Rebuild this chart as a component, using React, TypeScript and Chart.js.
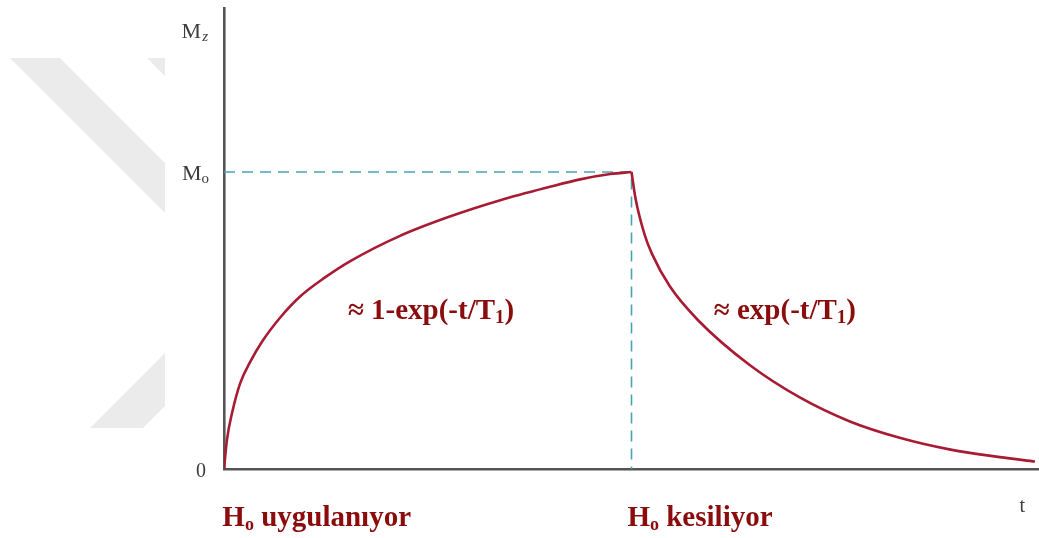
import { useEffect, useRef } from "react";
import { Chart, registerables } from "chart.js";

Chart.register(...registerables);

// Longitudinal magnetisation while the field is on, then after it is switched off
const riseTimes = [0, 0.037, 0.1, 0.2, 0.32, 0.47, 0.69, 0.93, 1.24, 1.55, 2.16, 2.77, 3.39, 4.0, 4.37, 4.74, 5.0];
const riseValues = [0, 0.1, 0.19, 0.29, 0.36, 0.43, 0.51, 0.58, 0.645, 0.7, 0.785, 0.85, 0.905, 0.95, 0.975, 0.993, 1.0];
const decayTimes = [5.0, 5.05, 5.16, 5.25, 5.47, 5.82, 6.45, 7.07, 7.68, 8.29, 8.9, 9.52, 9.95];
const decayValues = [1.0, 0.91, 0.79, 0.725, 0.615, 0.5, 0.35, 0.24, 0.16, 0.105, 0.066, 0.04, 0.025];

const switchOffTime = 5;
const equilibriumLevel = 1;
const timeMax = 10;
const levelMax = 1.552;

const CURVE = "#a81c33";
const GUIDE = "#4aa3b5";
const AXIS = "#555555";
const NOTE = "#8a0c0c";
const SERIF = '"Liberation Serif", "Times New Roman", serif';

type Seg = { t: string; size: number; dy?: number; italic?: boolean };

function drawRich(
  ctx: CanvasRenderingContext2D,
  segs: Seg[],
  x: number,
  y: number,
  align: "left" | "right",
  color: string,
  bold: boolean
) {
  const fontOf = (s: Seg) =>
    `${s.italic ? "italic " : ""}${bold ? "bold " : ""}${s.size}px ${SERIF}`;
  let total = 0;
  for (const s of segs) {
    ctx.font = fontOf(s);
    total += ctx.measureText(s.t).width;
  }
  let cx = align === "right" ? x - total : x;
  ctx.fillStyle = color;
  ctx.textAlign = "left";
  ctx.textBaseline = "alphabetic";
  for (const s of segs) {
    ctx.font = fontOf(s);
    ctx.fillText(s.t, cx, y + (s.dy || 0));
    cx += ctx.measureText(s.t).width;
  }
}

// Faint diagonal bands in the left margin
const backdropPlugin = {
  id: "backdrop",
  beforeDraw(chart: Chart) {
    const ctx = chart.ctx;
    ctx.save();
    ctx.fillStyle = "#ebebeb";
    const shapes = [
      [[10, 58], [60, 58], [165, 163], [165, 213]],
      [[147, 58], [165, 58], [165, 76]],
      [[90, 428], [143, 428], [165, 406], [165, 353]],
    ];
    for (const poly of shapes) {
      ctx.beginPath();
      poly.forEach(([px, py], i) => (i ? ctx.lineTo(px, py) : ctx.moveTo(px, py)));
      ctx.closePath();
      ctx.fill();
    }
    ctx.restore();
  },
};

const labelPlugin = {
  id: "labels",
  afterDraw(chart: Chart) {
    const ctx = chart.ctx;
    const xs = chart.scales.x;
    const ys = chart.scales.y;
    const left = xs.getPixelForValue(0);
    const base = ys.getPixelForValue(0);
    ctx.save();
    // axis captions
    drawRich(ctx, [{ t: "M", size: 22 }, { t: " ", size: 4 }, { t: "z", size: 15, dy: 3, italic: true }], left - 16, ys.top + 30, "right", "#3c3c3c", false);
    drawRich(ctx, [{ t: "M", size: 22 }, { t: "o", size: 15, dy: 3 }], left - 15, ys.getPixelForValue(equilibriumLevel) + 8, "right", "#3c3c3c", false);
    drawRich(ctx, [{ t: "0", size: 20 }], left - 18, base + 8, "right", "#3c3c3c", false);
    drawRich(ctx, [{ t: "t", size: 20 }], xs.getPixelForValue(9.76), base + 43, "left", "#3c3c3c", false);
    // formulas
    drawRich(
      ctx,
      [{ t: "≈ 1-exp(-t/T", size: 29 }, { t: "1", size: 19, dy: 4 }, { t: ")", size: 29 }],
      xs.getPixelForValue(1.52), ys.getPixelForValue(0.505), "left", NOTE, true
    );
    drawRich(
      ctx,
      [{ t: "≈ exp(-t/T", size: 29 }, { t: "1", size: 19, dy: 4 }, { t: ")", size: 29 }],
      xs.getPixelForValue(6.01), ys.getPixelForValue(0.505), "left", NOTE, true
    );
    // field on / off captions
    drawRich(
      ctx,
      [{ t: "H", size: 29 }, { t: "o", size: 18, dy: 4 }, { t: " uygulanıyor", size: 29 }],
      xs.getPixelForValue(-0.02), base + 57, "left", NOTE, true
    );
    drawRich(
      ctx,
      [{ t: "H", size: 29 }, { t: "o", size: 18, dy: 4 }, { t: " kesiliyor", size: 29 }],
      xs.getPixelForValue(switchOffTime - 0.05), base + 57, "left", NOTE, true
    );
    ctx.restore();
  },
};

export default function App() {
  const ref = useRef<HTMLCanvasElement | null>(null);

  useEffect(() => {
    if (!ref.current) return;
    const chart = new Chart(ref.current, {
      type: "line",
      data: {
        datasets: [
          {
            data: riseTimes.map((t, i) => ({ x: t, y: riseValues[i] })),
            borderColor: CURVE,
            borderWidth: 2.6,
            pointRadius: 0,
            cubicInterpolationMode: "monotone",
            order: 0,
          },
          {
            data: decayTimes.map((t, i) => ({ x: t, y: decayValues[i] })),
            borderColor: CURVE,
            borderWidth: 2.6,
            pointRadius: 0,
            cubicInterpolationMode: "monotone",
            order: 0,
          },
          {
            data: [
              { x: 0, y: equilibriumLevel },
              { x: switchOffTime, y: equilibriumLevel },
              { x: switchOffTime, y: 0 },
            ],
            borderColor: GUIDE,
            borderWidth: 1.6,
            borderDash: [11, 7],
            pointRadius: 0,
            tension: 0,
            order: 1,
          },
        ],
      },
      options: {
        animation: false,
        responsive: false,
        events: [],
        layout: { padding: { left: 224, top: 8, right: 0, bottom: 69 } },
        plugins: { legend: { display: false }, tooltip: { enabled: false } },
        scales: {
          x: {
            type: "linear",
            min: 0,
            max: timeMax,
            grid: { display: false, drawTicks: false },
            ticks: { display: false },
            border: { display: true, color: AXIS, width: 2.6 },
          },
          y: {
            type: "linear",
            min: 0,
            max: levelMax,
            grid: { display: false, drawTicks: false },
            ticks: { display: false },
            border: { display: true, color: AXIS, width: 2.6 },
          },
        },
      },
      plugins: [backdropPlugin, labelPlugin],
    });
    return () => chart.destroy();
  }, []);

  return (
    <div style={{ position: "fixed", left: 0, top: 0, width: 1039, height: 538, background: "#fff" }}>
      <canvas ref={ref} width={1039} height={538} style={{ display: "block" }} />
    </div>
  );
}
